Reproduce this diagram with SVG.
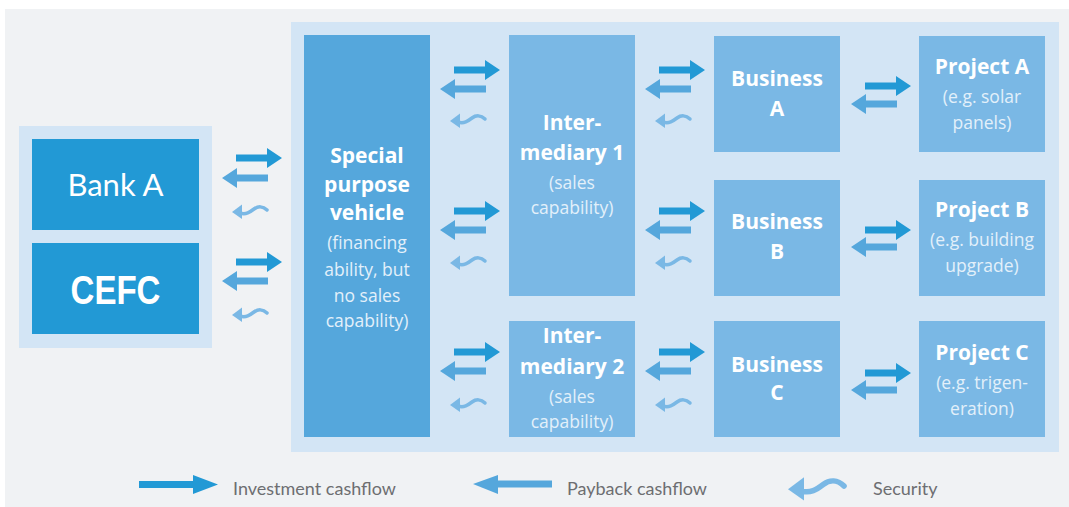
<svg xmlns="http://www.w3.org/2000/svg" xmlns:xlink="http://www.w3.org/1999/xlink" width="1069" height="507" viewBox="0 0 1069 507">
<style>
.panel{fill:#d3e5f5}
.dark{fill:#2299d5}
.mid{fill:#55a7dc}
.light{fill:#7ab8e5}
.t{font-family:"Open Sans",Lato,sans-serif;fill:#ffffff;text-anchor:middle}
.h{font-weight:bold;font-size:21px}
.s{font-size:17.5px;fill:#e3f0fa}
.lg{font-family:Lato,"Open Sans",sans-serif;font-size:18px;fill:#6d6e71}
.inv{fill:#2299d5}
.pay{fill:#55a7dc}
.sech{fill:#7ab8e5}
.secl{fill:none;stroke:#7ab8e5;stroke-width:3.5;stroke-linecap:round}
</style>
<defs>
<path id="inv" class="inv" d="M14,-3.5 H45 V-10 L60,0 L45,10 V3.5 H14 Z"/>
<path id="pay" class="pay" d="M0,0 L15,-10 V-3.5 H46 V3.5 H15 V10 Z"/>
<g id="sec">
<path class="sech" d="M10,2 L20,-5.5 L20,9 Z"/>
<path class="secl" d="M18,3 C24,5 28,2 32,-1 C36,-4 41,-4 45,0"/>
</g>
</defs>
<rect x="5" y="9" width="1064" height="498" fill="#f0f2f4"/>
<rect class="panel" x="291" y="22" width="768" height="430"/>
<rect class="panel" x="19" y="126" width="193" height="222"/>

<g id="bank-a">
<rect class="dark" x="32" y="139" width="167" height="91"/>
<text x="115.5" y="196" font-size="31" style="font-family:Lato,sans-serif;fill:#fff;text-anchor:middle">Bank A</text>
</g>
<g id="cefc">
<rect class="dark" x="32" y="243" width="167" height="91"/>
<text x="115.5" y="304" font-weight="bold" font-size="40" textLength="90" lengthAdjust="spacingAndGlyphs" style="font-family:'Liberation Sans',sans-serif;fill:#fff;text-anchor:middle">CEFC</text>
</g>
<g id="spv">
<rect class="mid" x="304" y="35" width="126" height="402"/>
<text class="t h" x="367" y="163">Special</text>
<text class="t h" x="367" y="192">purpose</text>
<text class="t h" x="367" y="220">vehicle</text>
<text class="t s" x="367" y="249">(financing</text>
<text class="t s" x="367" y="276">ability, but</text>
<text class="t s" x="367" y="302">no sales</text>
<text class="t s" x="367" y="327">capability)</text>
</g>
<g id="intermediary-1">
<rect class="light" x="509" y="35" width="126" height="261"/>
<text class="t h" x="572" y="130">Inter-</text>
<text class="t h" x="572" y="160">mediary 1</text>
<text class="t s" x="572" y="189">(sales</text>
<text class="t s" x="572" y="214">capability)</text>
</g>
<g id="intermediary-2">
<rect class="light" x="509" y="321" width="126" height="116"/>
<text class="t h" x="572" y="343">Inter-</text>
<text class="t h" x="572" y="374">mediary 2</text>
<text class="t s" x="572" y="403">(sales</text>
<text class="t s" x="572" y="428">capability)</text>
</g>
<g id="business-a">
<rect class="light" x="714" y="36" width="126" height="116"/>
<text class="t h" x="777" y="86">Business</text>
<text class="t h" x="777" y="116">A</text>
</g>
<g id="business-b">
<rect class="light" x="714" y="180" width="126" height="116"/>
<text class="t h" x="777" y="229">Business</text>
<text class="t h" x="777" y="259">B</text>
</g>
<g id="business-c">
<rect class="light" x="714" y="321" width="126" height="116"/>
<text class="t h" x="777" y="372">Business</text>
<text class="t h" x="777" y="400">C</text>
</g>
<g id="project-a">
<rect class="light" x="919" y="36" width="126" height="116"/>
<text class="t h" x="982" y="74">Project A</text>
<text class="t s" x="982" y="103">(e.g. solar</text>
<text class="t s" x="982" y="129">panels)</text>
</g>
<g id="project-b">
<rect class="light" x="919" y="180" width="126" height="116"/>
<text class="t h" x="982" y="217">Project B</text>
<text class="t s" x="982" y="246">(e.g. building</text>
<text class="t s" x="982" y="272">upgrade)</text>
</g>
<g id="project-c">
<rect class="light" x="919" y="321" width="126" height="116"/>
<text class="t h" x="982" y="360">Project C</text>
<text class="t s" x="982" y="389">(e.g. trigen-</text>
<text class="t s" x="982" y="415">eration)</text>
</g>

<g id="connectors">
<use xlink:href="#inv" x="222" y="158"/>
<use xlink:href="#pay" x="222" y="178"/>
<use xlink:href="#sec" x="222" y="210"/>
<use xlink:href="#inv" x="222" y="262"/>
<use xlink:href="#pay" x="222" y="281"/>
<use xlink:href="#sec" x="222" y="313"/>

<use xlink:href="#inv" x="440" y="70"/>
<use xlink:href="#pay" x="440" y="89"/>
<use xlink:href="#sec" x="440" y="119"/>
<use xlink:href="#inv" x="440" y="211"/>
<use xlink:href="#pay" x="440" y="230"/>
<use xlink:href="#sec" x="440" y="261"/>
<use xlink:href="#inv" x="440" y="352"/>
<use xlink:href="#pay" x="440" y="371"/>
<use xlink:href="#sec" x="440" y="403"/>

<use xlink:href="#inv" x="645" y="70"/>
<use xlink:href="#pay" x="645" y="89"/>
<use xlink:href="#sec" x="645" y="119"/>
<use xlink:href="#inv" x="645" y="211"/>
<use xlink:href="#pay" x="645" y="230"/>
<use xlink:href="#sec" x="645" y="261"/>
<use xlink:href="#inv" x="645" y="352"/>
<use xlink:href="#pay" x="645" y="371"/>
<use xlink:href="#sec" x="645" y="403"/>

<use xlink:href="#inv" x="851" y="86"/>
<use xlink:href="#pay" x="851" y="104"/>
<use xlink:href="#inv" x="851" y="230"/>
<use xlink:href="#pay" x="851" y="247"/>
<use xlink:href="#inv" x="851" y="373"/>
<use xlink:href="#pay" x="851" y="390"/>
</g>

<g id="legend">
<path class="inv" d="M139,481 H193 V475 L218,484.5 L193,494 V488 H139 Z"/>
<text class="lg" x="233" y="495">Investment cashflow</text>
<path class="pay" d="M473,484 L498,475 V480.5 H552 V487.5 H498 V494 Z"/>
<text class="lg" x="567" y="495">Payback cashflow</text>
<use xlink:href="#sec" transform="translate(772,486) scale(1.6)"/>
<text class="lg" x="873" y="495">Security</text>
</g>
</svg>
